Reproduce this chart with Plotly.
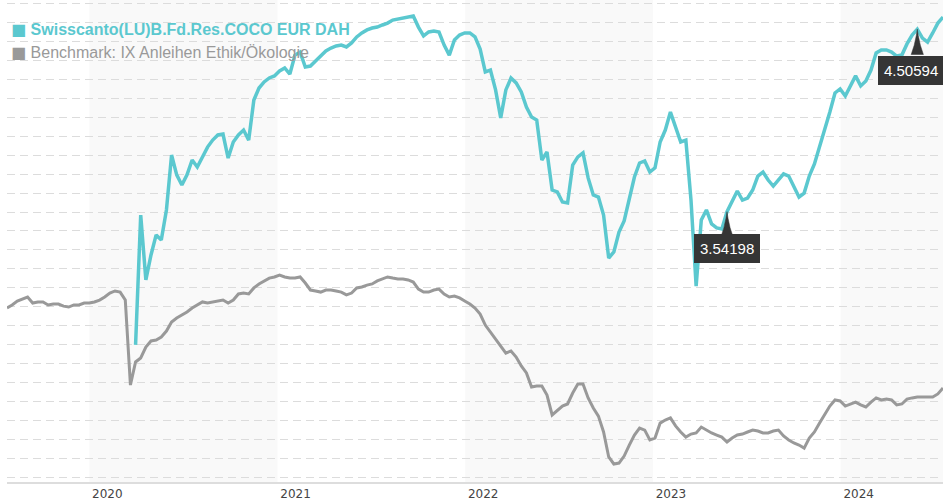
import pandas as pd
import plotly.graph_objects as go

# ---- data (10-day sampling) ----
start_date = "2019-07-25"
n_points = 183
dates = pd.date_range(start_date, periods=n_points, freq="10D")

benchmark_name = "Benchmark: IX Anleihen Ethik/Ökologie"
fund_name = "Swisscanto(LU)B.Fd.Res.COCO EUR DAH"

benchmark_values = [
    3.033, 3.049, 3.070, 3.080, 3.091, 3.059, 3.065, 3.065, 3.049, 3.054,
    3.054, 3.043, 3.038, 3.049, 3.049, 3.059, 3.059, 3.065, 3.075, 3.091,
    3.112, 3.123, 3.117, 3.075, 2.626, 2.748, 2.769, 2.827, 2.859, 2.864,
    2.880, 2.911, 2.959, 2.980, 2.996, 3.012, 3.033, 3.049, 3.065, 3.059,
    3.065, 3.070, 3.075, 3.059, 3.075, 3.107, 3.112, 3.107, 3.139, 3.160,
    3.176, 3.191, 3.197, 3.207, 3.197, 3.191, 3.191, 3.197, 3.165, 3.128,
    3.123, 3.117, 3.128, 3.128, 3.123, 3.117, 3.102, 3.112, 3.139, 3.144,
    3.154, 3.160, 3.176, 3.186, 3.197, 3.191, 3.186, 3.186, 3.181, 3.170,
    3.133, 3.117, 3.117, 3.128, 3.133, 3.107, 3.091, 3.096, 3.086, 3.070,
    3.054, 3.033, 3.001, 2.943, 2.906, 2.874, 2.832, 2.795, 2.806, 2.774,
    2.727, 2.690, 2.616, 2.621, 2.621, 2.573, 2.468, 2.494, 2.515, 2.526,
    2.584, 2.631, 2.631, 2.558, 2.505, 2.462, 2.378, 2.246, 2.209, 2.214,
    2.251, 2.309, 2.362, 2.399, 2.388, 2.336, 2.346, 2.425, 2.441, 2.452,
    2.410, 2.378, 2.351, 2.367, 2.373, 2.404, 2.388, 2.373, 2.362, 2.351,
    2.325, 2.346, 2.362, 2.367, 2.378, 2.388, 2.383, 2.373, 2.373, 2.383,
    2.388, 2.357, 2.336, 2.320, 2.309, 2.293, 2.346, 2.378, 2.425, 2.473,
    2.515, 2.547, 2.542, 2.515, 2.526, 2.536, 2.521, 2.510, 2.536, 2.558,
    2.547, 2.552, 2.547, 2.521, 2.526, 2.552, 2.558, 2.563, 2.563, 2.563,
    2.563, 2.579, 2.610,
]

fund_start_index = 25
fund_values = [
    2.838, 3.524, 3.181, 3.313, 3.419, 3.392, 3.551, 3.841, 3.736, 3.683,
    3.736, 3.815, 3.778, 3.831, 3.883, 3.920, 3.947, 3.952, 3.825, 3.910,
    3.947, 3.973, 3.920, 4.132, 4.195, 4.227, 4.248, 4.259, 4.285, 4.301,
    4.269, 4.369, 4.385, 4.306, 4.311, 4.338, 4.364, 4.391, 4.406, 4.417,
    4.422, 4.412, 4.433, 4.465, 4.486, 4.502, 4.512, 4.517, 4.528, 4.538,
    4.554, 4.560, 4.565, 4.570, 4.575, 4.517, 4.470, 4.491, 4.496, 4.491,
    4.422, 4.369, 4.449, 4.475, 4.486, 4.486, 4.465, 4.401, 4.280, 4.290,
    4.185, 4.037, 4.185, 4.248, 4.222, 4.174, 4.095, 4.042, 4.026, 3.815,
    3.857, 3.656, 3.646, 3.593, 3.588, 3.788, 3.831, 3.852, 3.720, 3.630,
    3.619, 3.524, 3.297, 3.329, 3.434, 3.493, 3.603, 3.725, 3.799, 3.810,
    3.751, 3.773, 3.910, 3.973, 4.068, 3.984, 3.910, 3.920, 3.603, 3.149,
    3.498, 3.551, 3.477, 3.456, 3.450, 3.54198, 3.598, 3.651, 3.603, 3.614,
    3.656, 3.730, 3.751, 3.709, 3.677, 3.709, 3.741, 3.730, 3.677, 3.619,
    3.640, 3.730, 3.794, 3.883, 3.968, 4.068, 4.169, 4.190, 4.153, 4.206,
    4.259, 4.206, 4.232, 4.290, 4.380, 4.396, 4.396, 4.385, 4.364, 4.369,
    4.428, 4.475, 4.50594, 4.459, 4.438, 4.486, 4.538, 4.570,
]
fund_dates = dates[fund_start_index:fund_start_index + len(fund_values)]

marked_values = [3.54198, 4.50594]
year_ticks = [2020, 2021, 2022, 2023, 2024]
shaded_years = [2020, 2022, 2024]

# ---- style ----
TEAL = "#5bc8cf"
GRAY = "#999999"
FLAG = "#353535"

fig = go.Figure()
fig.add_trace(go.Scatter(x=dates, y=benchmark_values, mode="lines", name=benchmark_name,
                         line=dict(color=GRAY, width=3), showlegend=False, hoverinfo="skip"))
fig.add_trace(go.Scatter(x=fund_dates, y=fund_values, mode="lines", name=fund_name,
                         line=dict(color=TEAL, width=3.5), showlegend=False, hoverinfo="skip"))

for yr in shaded_years:
    fig.add_shape(type="rect", xref="x", yref="paper",
                  x0=f"{yr}-01-01", x1=f"{yr + 1}-01-01", y0=0, y1=1,
                  fillcolor="#f9f9f9", line=dict(width=0), layer="below")

# value flags: spike pointing at the marked point + dark label box
spike_dx_days = [-12, -6, -2, 0, 2, 6, 12]
spike_dy = [-0.135, -0.085, -0.035, 0.0, -0.035, -0.085, -0.135]
flag_shift = [(0, -37), (-6, -41)]
for val, (xs, ys) in zip(marked_values, flag_shift):
    idx = fund_values.index(val)
    d = fund_dates[idx]
    fig.add_trace(go.Scatter(
        x=[d + pd.Timedelta(days=k) for k in spike_dx_days],
        y=[val + dy for dy in spike_dy],
        mode="lines", fill="toself", fillcolor=FLAG, line=dict(color=FLAG, width=0.5),
        showlegend=False, hoverinfo="skip"))
    fig.add_annotation(x=d, y=val, xref="x", yref="y", text=f"{val:.5f}",
                       showarrow=False, xshift=xs, yshift=ys,
                       xanchor="center", yanchor="middle",
                       bgcolor=FLAG, bordercolor=FLAG, borderpad=5,
                       font=dict(family="Liberation Sans, Arial, sans-serif", size=15,
                                 color="white"))

# legend (as text)
legend_items = [
    (fund_name, TEAL, True, 0.9398),
    (benchmark_name, GRAY, False, 0.892),
]
for name, color, bold, ypos in legend_items:
    label = f"<b>{name}</b>" if bold else name
    fig.add_annotation(xref="paper", yref="paper", x=0.002, y=ypos,
                       xanchor="left", yanchor="middle", showarrow=False,
                       text=f"<span style='font-family:DejaVu Sans;font-size:16px'>■</span> {label}",
                       font=dict(family="Liberation Sans, Arial, sans-serif", size=16, color=color))

fig.update_layout(
    width=943, height=500,
    margin=dict(l=7, r=0, t=0, b=18),
    paper_bgcolor="white", plot_bgcolor="white",
    showlegend=False,
    xaxis=dict(
        type="date",
        range=[start_date, "2024-07-18"],
        showgrid=False, zeroline=False,
        showline=True, linecolor="#dddddd", linewidth=2,
        tickvals=[f"{y}-01-01" for y in year_ticks],
        ticktext=[str(y) for y in year_ticks],
        ticks="", ticklabelshift=18,
        tickfont=dict(family="DejaVu Sans", size=12, color="#444444"),
    ),
    yaxis=dict(
        range=[2.1138, 4.66],
        showticklabels=False, ticks="", zeroline=False,
        showgrid=True, gridcolor="#dcdcdc", gridwidth=1, griddash="8px,5px",
        tick0=0.04, dtick=0.1,
    ),
)

fig.write_html("out.html", config={"displayModeBar": False},
               post_script="document.body.style.margin='0';")
